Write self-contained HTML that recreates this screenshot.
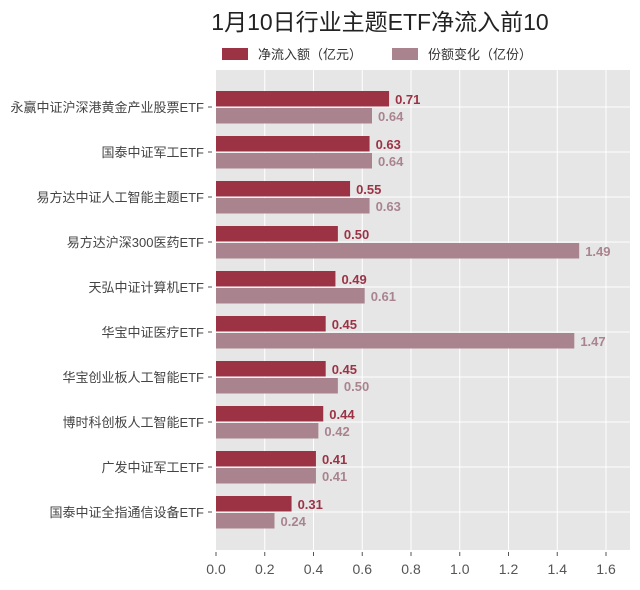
<!DOCTYPE html>
<html><head><meta charset="utf-8"><style>
body{margin:0;background:#fff;}
svg text{font-family:"Liberation Sans","Noto Sans CJK SC",sans-serif;}
</style></head><body>
<svg width="640" height="585" xmlns="http://www.w3.org/2000/svg">
<rect width="640" height="585" fill="#fff"/>
<text x="380" y="30" font-size="23" text-anchor="middle" fill="#222">1月10日行业主题ETF净流入前10</text>
<rect x="222" y="48" width="26" height="12" fill="#9b3345"/>
<text x="258" y="59" font-size="13" fill="#333">净流入额（亿元）</text>
<rect x="392" y="48" width="26" height="12" fill="#a9848f"/>
<text x="428" y="59" font-size="13" fill="#333">份额变化（亿份）</text>
<rect x="216" y="70" width="414" height="480" fill="#e6e6e6"/>
<g stroke="#fff" stroke-width="1">
<line x1="264.75" y1="70" x2="264.75" y2="550"/><line x1="313.5" y1="70" x2="313.5" y2="550"/>
<line x1="362.25" y1="70" x2="362.25" y2="550"/><line x1="411" y1="70" x2="411" y2="550"/>
<line x1="459.75" y1="70" x2="459.75" y2="550"/><line x1="508.5" y1="70" x2="508.5" y2="550"/>
<line x1="557.25" y1="70" x2="557.25" y2="550"/><line x1="606" y1="70" x2="606" y2="550"/>
</g>
<g id="rows"></g>
<g font-size="14" fill="#555" text-anchor="middle">
<text x="216" y="574">0.0</text><text x="264.75" y="574">0.2</text><text x="313.5" y="574">0.4</text><text x="362.25" y="574">0.6</text><text x="411" y="574">0.8</text><text x="459.75" y="574">1.0</text><text x="508.5" y="574">1.2</text><text x="557.25" y="574">1.4</text><text x="606" y="574">1.6</text>
</g>
<g stroke="#555"><line x1="216" y1="552" x2="216" y2="556"/><line x1="264.75" y1="552" x2="264.75" y2="556"/><line x1="313.5" y1="552" x2="313.5" y2="556"/><line x1="362.25" y1="552" x2="362.25" y2="556"/><line x1="411" y1="552" x2="411" y2="556"/><line x1="459.75" y1="552" x2="459.75" y2="556"/><line x1="508.5" y1="552" x2="508.5" y2="556"/><line x1="557.25" y1="552" x2="557.25" y2="556"/><line x1="606" y1="552" x2="606" y2="556"/></g>
</svg>
<script>
var d=[["永赢中证沪深港黄金产业股票ETF",0.71,0.64],["国泰中证军工ETF",0.63,0.64],["易方达中证人工智能主题ETF",0.55,0.63],["易方达沪深300医药ETF",0.50,1.49],["天弘中证计算机ETF",0.49,0.61],["华宝中证医疗ETF",0.45,1.47],["华宝创业板人工智能ETF",0.45,0.50],["博时科创板人工智能ETF",0.44,0.42],["广发中证军工ETF",0.41,0.41],["国泰中证全指通信设备ETF",0.31,0.24]];
var g=document.getElementById("rows"),s="",k=243.75;
d.forEach(function(r,i){var c=107+i*45;
s+='<line x1="216" y1="'+c+'" x2="630" y2="'+c+'" stroke="#fff"/>';
s+='<rect x="216" y="'+(c-16)+'" width="'+(r[1]*k)+'" height="15.5" fill="#9b3345"/>';
s+='<rect x="216" y="'+(c+1)+'" width="'+(r[2]*k)+'" height="15.5" fill="#a9848f"/>';
s+='<text x="'+(222+r[1]*k)+'" y="'+(c-3)+'" font-size="13" font-weight="bold" fill="#9b3345">'+r[1].toFixed(2)+'</text>';
s+='<text x="'+(222+r[2]*k)+'" y="'+(c+14)+'" font-size="13" font-weight="bold" fill="#a9848f">'+r[2].toFixed(2)+'</text>';
s+='<text x="204" y="'+(c+5)+'" font-size="13" text-anchor="end" fill="#444">'+r[0]+'</text>';
s+='<line x1="208" y1="'+c+'" x2="212" y2="'+c+'" stroke="#555"/>';});
g.innerHTML=s;
</script>
</body></html>
